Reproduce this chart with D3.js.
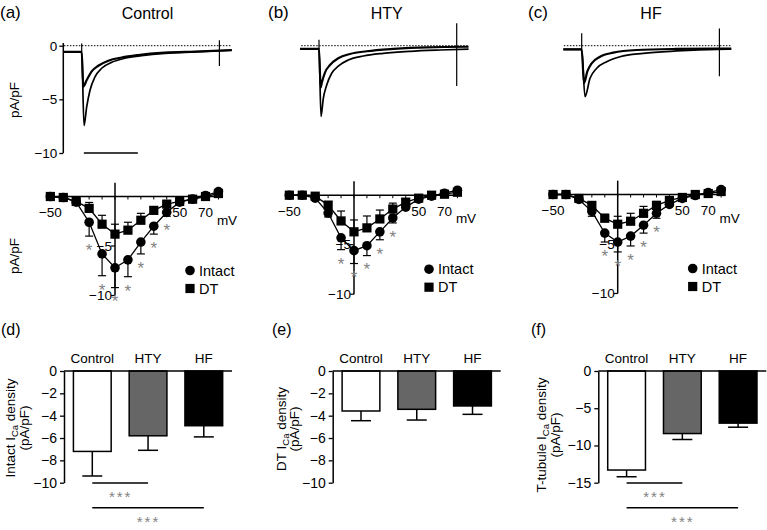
<!DOCTYPE html>
<html><head><meta charset="utf-8">
<script src="https://cdn.jsdelivr.net/npm/d3@7"></script>
<style>body{margin:0;background:#fff}svg{display:block;font-family:"Liberation Sans",Arial,Helvetica,sans-serif}</style>
</head><body><svg id="c" width="767" height="530"></svg>
<script>
// ---------------- DATA ----------------
const groups = ["Control", "HTY", "HF"];
const topLetters = ["(a)", "(b)", "(c)"];
const bottomLetters = ["(d)", "(e)", "(f)"];

// Current traces: [time (ms), current (pA/pF)]
const ctrlTraceIntact = [[-34,-0.58],[0,-0.58],[4.3,-7.45],[9.3,-5.68],[15.4,-4.15],[24.6,-2.9],[37,-2.1],[55.6,-1.55],[80,-1.17],[111,-0.93],[154,-0.71],[210,-0.58],[278,-0.42]];
const ctrlTraceDT     = [[-34,-0.58],[0,-0.58],[3,-3.8],[9.3,-3.2],[18.5,-2.4],[30.7,-1.87],[49.3,-1.4],[74,-1.1],[104.8,-0.87],[154,-0.65],[210,-0.55],[278,-0.42]];
const htyTraceIntact  = [[-35,-0.3],[0,-0.3],[3.7,-6.6],[8,-4.9],[14.3,-3.66],[23.5,-2.57],[35.7,-1.9],[54.3,-1.33],[82,-0.96],[119,-0.71],[168.5,-0.52],[224,-0.4],[277,-0.32]];
const htyTraceDT      = [[-35,-0.3],[0,-0.3],[3.1,-3.9],[5,-3.5],[11,-2.5],[20.4,-1.8],[35.7,-1.17],[57.4,-0.77],[88.3,-0.52],[137.6,-0.3],[199.4,-0.15],[277,-0.1]];
const hfTraceIntact   = [[-34,-0.34],[0,-0.34],[6.1,-4.75],[15.4,-3.04],[27.8,-2.1],[46.3,-1.49],[71,-1.03],[114,-0.71],[176,-0.49],[250,-0.34],[277,-0.33]];
const hfTraceDT       = [[-34,-0.34],[0,-0.34],[4.3,-3.5],[10.4,-2.4],[18.5,-1.64],[33.9,-1.03],[58.5,-0.65],[102,-0.4],[176,-0.3],[250,-0.27],[277,-0.27]];
// capacitive artifacts: onset peak, end-of-pulse [top, bottom]
const onsetArtifact = [0.2, 0.55, 1.15];
const endArtifact = [[0.5,-1.9],[2.1,-3.75],[1.6,-2.85]];
const artifactTime = 255;
const scaleBarMs = [4, 104];
const traceTicks = [0, -5, -10];

// I-V relationships
const voltages = [-50,-40,-30,-20,-10,0,10,20,30,40,50,60,70,80];
const ctrlIntactIV    = [0,-0.1,-0.57,-2.6,-5.8,-7.2,-6.4,-4.6,-3.0,-1.6,-0.57,-0.27,0.1,0.5];
const ctrlIntactIVErr = [0,0,0.1,1.4,2.2,2.0,1.7,1.2,0.8,0.4,0.2,0.1,0.1,0.1];
const ctrlDTIV        = [0,-0.1,-0.5,-1.2,-2.8,-3.8,-3.4,-2.4,-1.4,-0.77,-0.5,-0.27,0,0.3];
const ctrlDTIVErr     = [0,0,0.1,0.6,0.9,1.0,0.8,0.7,0.3,0.2,0.1,0.1,0.1,0.1];
const htyIntactIV     = [0,0,-0.3,-1.8,-4.3,-5.6,-5.1,-3.7,-2.3,-1.2,-0.4,-0.1,0.2,0.5];
const htyIntactIVErr  = [0,0,0.1,0.4,1.2,1.3,1.0,0.8,0.5,0.2,0.1,0.1,0.1,0.1];
const htyDTIV         = [0,0,-0.1,-1.0,-2.6,-3.7,-3.3,-2.4,-1.4,-0.7,-0.3,0,0.1,0.3];
const htyDTIVErr      = [0,0,0.1,0.3,1.0,1.2,1.2,0.9,0.6,0.3,0.1,0.1,0.1,0.1];
const hfIntactIV      = [0,0,-0.5,-1.7,-3.9,-4.8,-4.2,-3.1,-1.9,-1.0,-0.4,-0.1,0.2,0.5];
const hfIntactIVErr   = [0,0,0.1,0.5,0.9,1.0,1.0,0.8,0.5,0.2,0.1,0.1,0.1,0.1];
const hfDTIV          = [0,0,-0.4,-1.1,-2.4,-3.0,-2.7,-1.9,-1.1,-0.6,-0.3,0,0.1,0.3];
const hfDTIVErr       = [0,0,0.1,0.3,0.4,0.8,0.8,0.7,0.4,0.2,0.1,0.1,0.1,0.1];
const ctrlSigV = [-20,-10,0,10,20,30,40];
const htySigV  = [-10,0,10,20,30];
const hfSigV   = [-10,0,10,20,30];
const ivXTickLabels = [-50, 50, 70];
const ivYTickLabels = [-5, -10];
const legendLabels = ["Intact", "DT"];

// Bar charts (mean, SEM)
const intactDensity    = [-7.2, -5.8, -4.9];
const intactDensityErr = [2.2, 1.3, 1.0];
const dtDensity        = [-3.58, -3.43, -3.13];
const dtDensityErr     = [0.87, 0.96, 0.75];
const ttDensity        = [-13.3, -8.4, -7.0];
const ttDensityErr     = [0.9, 0.8, 0.55];
const intactTicks = [0,-2,-4,-6,-8,-10];
const dtTicks     = [0,-2,-4,-6,-8,-10];
const ttTicks     = [0,-5,-10,-15];
const sigPairs = [["Control","HTY"],["Control","HF"]];
const barFill = ["#ffffff", "#666666", "#000000"];

// ---------------- DRAW ----------------
const svg = d3.select("#c");
const GRAY = "#828282";
const fmt = d => d3.format("d")(d);

function starText(g, x, yc, s, size, ls) {
  return g.append("text").attr("x", x).attr("y", yc + 0.58 * size)
    .attr("text-anchor", "middle").attr("font-size", size).attr("fill", GRAY)
    .attr("letter-spacing", ls || 0).text(s);
}

// ---- Trace panels ----
const traceY = d3.scaleLinear().domain([0, -10]).range([45.7, 153]);
const traceX0 = [81.7, 319, 581.7];
const traceSets = [[ctrlTraceIntact, ctrlTraceDT],[htyTraceIntact, htyTraceDT],[hfTraceIntact, hfTraceDT]];
const titleX = [147.5, 386.7, 651];
const letterX = [0, 268, 528];

groups.forEach((g, i) => {
  svg.append("text").attr("x", letterX[i]).attr("y", 17.5).attr("font-size", 17).text(topLetters[i]);
  svg.append("text").attr("x", titleX[i]).attr("y", 18.5).attr("font-size", 16).attr("text-anchor", "middle").text(g);

  const x = d3.scaleLinear().domain([0, 100]).range([traceX0[i], traceX0[i] + 54]);
  // zero dotted line
  svg.append("line").attr("x1", x(-33)).attr("x2", x(278)).attr("y1", traceY(0)).attr("y2", traceY(0))
    .attr("stroke", "#000").attr("stroke-width", 1).attr("stroke-dasharray", "1.5,1.5");
  const line = d3.line().x(d => x(d[0])).y(d => traceY(d[1])).curve(d3.curveMonotoneX);
  traceSets[i].forEach((tr, k) => {
    svg.append("path").attr("d", line(tr)).attr("fill", "none").attr("stroke", "#000")
      .attr("stroke-width", k === 1 ? 2.2 : 1.7).attr("stroke-linejoin", "round");
  });
  // artifacts
  const base = traceSets[i][0][1][1];
  svg.append("line").attr("x1", x(0)).attr("x2", x(0)).attr("y1", traceY(onsetArtifact[i])).attr("y2", traceY(base))
    .attr("stroke", "#000").attr("stroke-width", 1.2);
  svg.append("line").attr("x1", x(artifactTime)).attr("x2", x(artifactTime))
    .attr("y1", traceY(endArtifact[i][0])).attr("y2", traceY(endArtifact[i][1]))
    .attr("stroke", "#000").attr("stroke-width", 1.2);

  if (i === 0) {
    const ax = svg.append("g").attr("transform", "translate(63.3,0)")
      .call(d3.axisLeft(traceY).tickValues(traceTicks).tickSize(4).tickPadding(2).tickFormat(fmt));
    ax.select(".domain").remove();
    ax.selectAll("text").attr("font-size", 13.5).attr("font-family", null);
    ax.selectAll("line").attr("stroke-width", 1.3);
    svg.append("line").attr("x1", 63.3).attr("x2", 63.3).attr("y1", traceY(0.25)).attr("y2", traceY(-10))
      .attr("stroke", "#000").attr("stroke-width", 1.5);
    svg.append("text").attr("transform", "translate(19,100) rotate(-90)").attr("text-anchor", "middle")
      .attr("font-size", 13.5).text("pA/pF");
    svg.append("line").attr("x1", x(scaleBarMs[0])).attr("x2", x(scaleBarMs[1]))
      .attr("y1", traceY(-10)).attr("y2", traceY(-10)).attr("stroke", "#000").attr("stroke-width", 1.5);
  }
});

// ---- I-V panels ----
const ivX0 = [115, 354, 617.7];
const ivY0 = [196.5, 195.2, 194.5];
const ivSets = [
  {intact: ctrlIntactIV, ie: ctrlIntactIVErr, dt: ctrlDTIV, de: ctrlDTIVErr, sig: ctrlSigV},
  {intact: htyIntactIV, ie: htyIntactIVErr, dt: htyDTIV, de: htyDTIVErr, sig: htySigV},
  {intact: hfIntactIV, ie: hfIntactIVErr, dt: hfDTIV, de: hfDTIVErr, sig: hfSigV}
];
groups.forEach((g, i) => {
  const p = ivSets[i];
  const x = d3.scaleLinear().domain([0, 10]).range([ivX0[i], ivX0[i] + 12.93]);
  const y = d3.scaleLinear().domain([0, -10]).range([ivY0[i], ivY0[i] + 99]);
  const G = svg.append("g");
  G.append("line").attr("x1", x(-53)).attr("x2", x(82)).attr("y1", y(0)).attr("y2", y(0))
    .attr("stroke", "#000").attr("stroke-width", 1.5);
  G.selectAll(".xt").data(voltages).enter().append("line")
    .attr("x1", d => x(d)).attr("x2", d => x(d)).attr("y1", y(0)).attr("y2", y(0) + 3)
    .attr("stroke", "#000").attr("stroke-width", 1);
  G.selectAll(".xl").data(ivXTickLabels).enter().append("text")
    .attr("x", d => x(d)).attr("y", y(0) + 20.5).attr("text-anchor", "middle").attr("font-size", 13.5)
    .text(fmt);
  G.append("text").attr("x", x(0) + 112).attr("y", y(0) + 28).attr("text-anchor", "middle").attr("font-size", 13.5).text("mV");
  G.append("line").attr("x1", x(0)).attr("x2", x(0)).attr("y1", y(1.4)).attr("y2", y(-10))
    .attr("stroke", "#000").attr("stroke-width", 1.5);
  G.selectAll(".yt").data(ivYTickLabels).enter().append("line")
    .attr("x1", x(0) - 4).attr("x2", x(0)).attr("y1", d => y(d)).attr("y2", d => y(d))
    .attr("stroke", "#000").attr("stroke-width", 1.2);
  G.selectAll(".yl").data(ivYTickLabels).enter().append("text")
    .attr("x", x(0) - 3).attr("y", d => y(d)).attr("dy", "0.35em").attr("text-anchor", "end")
    .attr("font-size", 13.5).text(fmt);
  if (i === 0) {
    svg.append("text").attr("transform", "translate(19,256) rotate(-90)").attr("text-anchor", "middle")
      .attr("font-size", 13.5).text("pA/pF");
  }
  const ln = d3.line().x((d, k) => x(voltages[k])).y(d => y(d));
  G.append("path").attr("d", ln(p.dt)).attr("fill", "none").attr("stroke", "#000").attr("stroke-width", 1.3);
  G.append("path").attr("d", ln(p.intact)).attr("fill", "none").attr("stroke", "#000").attr("stroke-width", 1.3);
  const eb = (vals, errs, dir) => {
    voltages.forEach((v, k) => {
      if (errs[k] <= 0.15) return;
      const y2 = y(vals[k] + dir * errs[k]);
      G.append("line").attr("x1", x(v)).attr("x2", x(v)).attr("y1", y(vals[k])).attr("y2", y2)
        .attr("stroke", "#000").attr("stroke-width", 1.2);
      G.append("line").attr("x1", x(v) - 4).attr("x2", x(v) + 4).attr("y1", y2).attr("y2", y2)
        .attr("stroke", "#000").attr("stroke-width", 1.2);
    });
  };
  eb(p.dt, p.de, 1);
  eb(p.intact, p.ie, -1);
  G.selectAll(".sq").data(p.dt).enter().append("rect")
    .attr("x", (d, k) => x(voltages[k]) - 4.6).attr("y", d => y(d) - 4.6).attr("width", 9.2).attr("height", 9.2).attr("fill", "#000");
  G.selectAll(".ci").data(p.intact).enter().append("circle")
    .attr("cx", (d, k) => x(voltages[k])).attr("cy", d => y(d)).attr("r", 4.8).attr("fill", "#000");
  p.sig.forEach(v => {
    const k = voltages.indexOf(v);
    starText(G, x(v), y(p.intact[k] - p.ie[k]) + 10, "*", 17);
  });
  const lx = x(0) + 75, ly = y(0) + 74;
  G.append("circle").attr("cx", lx).attr("cy", ly).attr("r", 4.8).attr("fill", "#000");
  G.append("rect").attr("x", lx - 4.6).attr("y", ly + 18 - 4.6).attr("width", 9.2).attr("height", 9.2).attr("fill", "#000");
  legendLabels.forEach((t, k) => {
    G.append("text").attr("x", lx + 9).attr("y", ly + k * 18).attr("dy", "0.36em").attr("font-size", 14.5).text(t);
  });
});

// ---- Bar panels ----
const barAxisX = [64, 332.7, 598.3];
const barSets = [
  {vals: intactDensity, errs: intactDensityErr, ticks: intactTicks, min: -10, label: "Intact ", tx: [15, 29], ty: 428, sig: true},
  {vals: dtDensity, errs: dtDensityErr, ticks: dtTicks, min: -10, label: "DT ", tx: [285.7, 298.7], ty: 429, sig: false},
  {vals: ttDensity, errs: ttDensityErr, ticks: ttTicks, min: -15, label: "T-tubule ", tx: [546.3, 560.3], ty: 435, sig: true}
];
const bLetterX = [1, 272, 531];
barSets.forEach((b, i) => {
  const A = barAxisX[i];
  const y = d3.scaleLinear().domain([0, b.min]).range([371, 482.7]);
  const x = d3.scaleBand().domain(groups).range([A + 0.5, A + 167.6]).paddingInner(0.323).paddingOuter(0.16);
  const G = svg.append("g");
  G.append("text").attr("x", bLetterX[i]).attr("y", 335).attr("font-size", 16).text(bottomLetters[i]);
  G.selectAll(".cl").data(groups).enter().append("text")
    .attr("x", d => x(d) + x.bandwidth() / 2).attr("y", 363).attr("text-anchor", "middle").attr("font-size", 13.5).text(d => d);
  G.selectAll(".bar").data(b.vals).enter().append("rect")
    .attr("x", (d, k) => x(groups[k])).attr("y", y(0)).attr("width", x.bandwidth())
    .attr("height", d => y(d) - y(0)).attr("fill", (d, k) => barFill[k])
    .attr("stroke", "#000").attr("stroke-width", 1.5);
  b.vals.forEach((v, k) => {
    const cx = x(groups[k]) + x.bandwidth() / 2, y2 = y(v - b.errs[k]);
    G.append("line").attr("x1", cx).attr("x2", cx).attr("y1", y(v)).attr("y2", y2).attr("stroke", "#000").attr("stroke-width", 1.5);
    G.append("line").attr("x1", cx - 10).attr("x2", cx + 10).attr("y1", y2).attr("y2", y2).attr("stroke", "#000").attr("stroke-width", 1.5);
  });
  const ax = G.append("g").attr("transform", `translate(${A},0)`)
    .call(d3.axisLeft(y).tickValues(b.ticks).tickSize(4).tickSizeOuter(0).tickPadding(3).tickFormat(fmt));
  ax.select(".domain").attr("stroke-width", 1.5);
  ax.selectAll(".tick line").attr("stroke-width", 1.3);
  ax.selectAll("text").attr("font-size", 14).attr("font-family", null);
  G.append("line").attr("x1", A).attr("x2", A + 168).attr("y1", y(0)).attr("y2", y(0)).attr("stroke", "#000").attr("stroke-width", 1.5);
  const t1 = G.append("text").attr("transform", `translate(${b.tx[0]},${b.ty}) rotate(-90)`).attr("text-anchor", "middle").attr("font-size", 13.5);
  t1.append("tspan").text(b.label + "I");
  t1.append("tspan").attr("dy", 3).attr("font-size", 9.5).text("Ca");
  t1.append("tspan").attr("dy", -3).text(" density");
  G.append("text").attr("transform", `translate(${b.tx[1]},${b.ty}) rotate(-90)`).attr("text-anchor", "middle").attr("font-size", 13.5).text("(pA/pF)");
  if (b.sig) {
    sigPairs.forEach((pr, k) => {
      const x1 = x(pr[0]) + x.bandwidth() / 2, x2 = x(pr[1]) + x.bandwidth() / 2;
      const ly = 483 + k * 24.8;
      G.append("line").attr("x1", x1).attr("x2", x2).attr("y1", ly).attr("y2", ly).attr("stroke", "#000").attr("stroke-width", 1.5);
      starText(G, (x1 + x2) / 2 + 0.5, ly + 10, "***", 15, 2);
    });
  }
});
</script></body></html>
